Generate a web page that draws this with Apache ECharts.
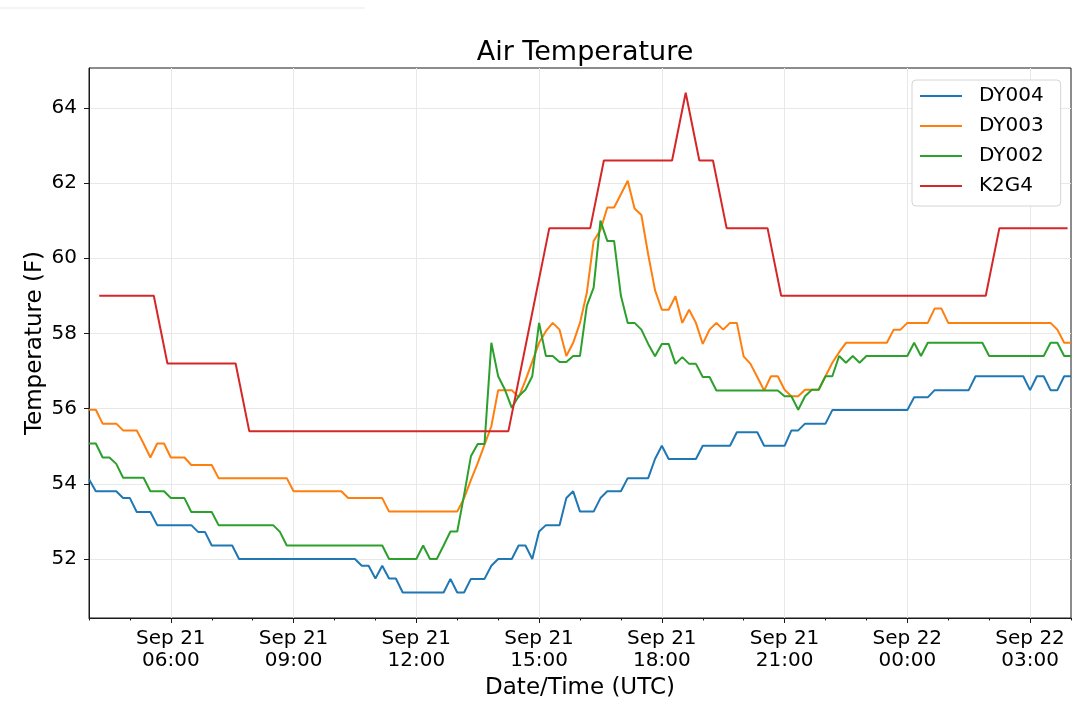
<!DOCTYPE html>
<html>
<head>
<meta charset="utf-8">
<title>Air Temperature</title>
<script src="https://cdn.jsdelivr.net/npm/echarts@6/dist/echarts.min.js"></script>
<style>
  html, body { margin: 0; padding: 0; background: #fff; }
  #chart { width: 1080px; height: 708px; }
</style>
</head>
<body>
<div id="chart"></div>
<script>
// Series names, in legend order
const seriesNames = ['DY004', 'DY003', 'DY002', 'K2G4'];
const seriesColors = ['#1f77b4', '#ff7f0e', '#2ca02c', '#d62728'];

// DY stations: one reading every 10 minutes from Sep 21 04:00 UTC
const dyStart = Date.UTC(2019, 8, 21, 4, 0);
const dyStepMin = 10;

const dy004 = [
  54.12, 53.8, 53.8, 53.8, 53.8, 53.62, 53.62, 53.25, 53.25, 53.25,
  52.9, 52.9, 52.9, 52.9, 52.9, 52.9, 52.72, 52.72, 52.36, 52.36,
  52.36, 52.36, 52.0, 52.0, 52.0, 52.0, 52.0, 52.0, 52.0, 52.0,
  52.0, 52.0, 52.0, 52.0, 52.0, 52.0, 52.0, 52.0, 52.0, 52.0,
  51.82, 51.82, 51.48, 51.82, 51.48, 51.48, 51.11, 51.11, 51.11, 51.11,
  51.11, 51.11, 51.11, 51.47, 51.11, 51.11, 51.47, 51.47, 51.47, 51.82,
  52.0, 52.0, 52.0, 52.36, 52.36, 52.0, 52.73, 52.9, 52.9, 52.9,
  53.62, 53.8, 53.26, 53.26, 53.26, 53.62, 53.8, 53.8, 53.8, 54.15,
  54.15, 54.15, 54.15, 54.66, 55.01, 54.66, 54.66, 54.66, 54.66, 54.66,
  55.01, 55.01, 55.01, 55.01, 55.01, 55.37, 55.37, 55.37, 55.37, 55.01,
  55.01, 55.01, 55.01, 55.42, 55.42, 55.6, 55.6, 55.6, 55.6, 55.96,
  55.96, 55.96, 55.96, 55.96, 55.96, 55.96, 55.96, 55.96, 55.96, 55.96,
  55.96, 56.3, 56.3, 56.3, 56.49, 56.49, 56.49, 56.49, 56.49, 56.49,
  56.86, 56.86, 56.86, 56.86, 56.86, 56.86, 56.86, 56.86, 56.49, 56.86,
  56.86, 56.49, 56.49, 56.86, 56.86
];

const dy003 = [
  55.97, 55.97, 55.6, 55.6, 55.6, 55.42, 55.42, 55.42, 55.07, 54.7,
  55.07, 55.07, 54.7, 54.7, 54.7, 54.5, 54.5, 54.5, 54.5, 54.15,
  54.15, 54.15, 54.15, 54.15, 54.15, 54.15, 54.15, 54.15, 54.15, 54.15,
  53.8, 53.8, 53.8, 53.8, 53.8, 53.8, 53.8, 53.8, 53.62, 53.62,
  53.62, 53.62, 53.62, 53.62, 53.26, 53.26, 53.26, 53.26, 53.26, 53.26,
  53.26, 53.26, 53.26, 53.26, 53.26, 53.62, 54.1, 54.55, 55.04, 55.53,
  56.49, 56.49, 56.49, 56.3, 56.75, 57.25, 57.75, 58.06, 58.28, 58.1,
  57.4, 57.75, 58.28, 59.08, 60.46, 60.75, 61.35, 61.35, 61.7, 62.06,
  61.32, 61.15, 60.1, 59.15, 58.63, 58.63, 58.99, 58.28, 58.63, 58.28,
  57.72, 58.1, 58.28, 58.1, 58.28, 58.28, 57.39, 57.19, 56.84, 56.48,
  56.86, 56.86, 56.5, 56.33, 56.33, 56.5, 56.5, 56.5, 56.86, 57.22,
  57.5, 57.75, 57.75, 57.75, 57.75, 57.75, 57.75, 57.75, 58.1, 58.1,
  58.28, 58.28, 58.28, 58.28, 58.66, 58.66, 58.28, 58.28, 58.28, 58.28,
  58.28, 58.28, 58.28, 58.28, 58.28, 58.28, 58.28, 58.28, 58.28, 58.28,
  58.28, 58.28, 58.1, 57.75, 57.75
];

const dy002 = [
  55.07, 55.07, 54.7, 54.7, 54.53, 54.16, 54.16, 54.16, 54.16, 53.8,
  53.8, 53.8, 53.62, 53.62, 53.62, 53.25, 53.25, 53.25, 53.25, 52.9,
  52.9, 52.9, 52.9, 52.9, 52.9, 52.9, 52.9, 52.9, 52.72, 52.36,
  52.36, 52.36, 52.36, 52.36, 52.36, 52.36, 52.36, 52.36, 52.36, 52.36,
  52.36, 52.36, 52.36, 52.36, 52.0, 52.0, 52.0, 52.0, 52.0, 52.36,
  52.0, 52.0, 52.36, 52.73, 52.73, 53.7, 54.73, 55.06, 55.06, 57.75,
  56.86, 56.5, 56.02, 56.33, 56.5, 56.86, 58.28, 57.4, 57.4, 57.24,
  57.24, 57.4, 57.4, 58.73, 59.22, 61.0, 60.46, 60.46, 59.0, 58.28,
  58.28, 58.1, 57.72, 57.39, 57.72, 57.72, 57.19, 57.37, 57.19, 57.19,
  56.84, 56.84, 56.48, 56.48, 56.48, 56.48, 56.48, 56.48, 56.48, 56.48,
  56.48, 56.48, 56.33, 56.33, 55.97, 56.33, 56.5, 56.5, 56.86, 56.86,
  57.4, 57.22, 57.4, 57.22, 57.4, 57.4, 57.4, 57.4, 57.4, 57.4,
  57.4, 57.75, 57.4, 57.75, 57.75, 57.75, 57.75, 57.75, 57.75, 57.75,
  57.75, 57.75, 57.4, 57.4, 57.4, 57.4, 57.4, 57.4, 57.4, 57.4,
  57.4, 57.75, 57.75, 57.4, 57.4
];

// K2G4: one report every 20 minutes from Sep 21 04:15 UTC
const k2g4Start = Date.UTC(2019, 8, 21, 4, 15);
const k2g4StepMin = 20;
const k2g4 = [
  59.0, 59.0, 59.0, 59.0, 59.0,
  57.2, 57.2, 57.2, 57.2, 57.2, 57.2,
  55.4, 55.4, 55.4, 55.4, 55.4, 55.4, 55.4, 55.4, 55.4, 55.4,
  55.4, 55.4, 55.4, 55.4, 55.4, 55.4, 55.4, 55.4, 55.4, 55.4,
  57.2, 59.0,
  60.8, 60.8, 60.8, 60.8,
  62.6, 62.6, 62.6, 62.6, 62.6, 62.6,
  64.4,
  62.6, 62.6,
  60.8, 60.8, 60.8, 60.8,
  59.0, 59.0, 59.0, 59.0, 59.0, 59.0, 59.0, 59.0,
  59.0, 59.0, 59.0, 59.0, 59.0, 59.0, 59.0, 59.0,
  60.8, 60.8, 60.8, 60.8, 60.8, 60.8
];

// Axis ticks
const yTicks = [52, 54, 56, 58, 60, 62, 64];
const xStart = Date.UTC(2019, 8, 21, 4, 0);
const xEnd = Date.UTC(2019, 8, 22, 4, 0);
const xMajorTicks = [
  Date.UTC(2019, 8, 21, 6), Date.UTC(2019, 8, 21, 9), Date.UTC(2019, 8, 21, 12),
  Date.UTC(2019, 8, 21, 15), Date.UTC(2019, 8, 21, 18), Date.UTC(2019, 8, 21, 21),
  Date.UTC(2019, 8, 22, 0), Date.UTC(2019, 8, 22, 3)
];
const xMinorTicks = [];
for (let t = xStart; t <= xEnd; t += 3600 * 1000) xMinorTicks.push(t);

const MONTHS = ['Jan', 'Feb', 'Mar', 'Apr', 'May', 'Jun', 'Jul', 'Aug', 'Sep', 'Oct', 'Nov', 'Dec'];
function pad2(n) { return (n < 10 ? '0' : '') + n; }
function fmtTime(v) {
  const d = new Date(v);
  return MONTHS[d.getUTCMonth()] + ' ' + d.getUTCDate() + '\n' +
         pad2(d.getUTCHours()) + ':' + pad2(d.getUTCMinutes());
}

function toPairs(start, stepMin, values) {
  return values.map((v, i) => [start + i * stepMin * 60000, v]);
}

const FONT = '"DejaVu Sans", sans-serif';
const chart = echarts.init(document.getElementById('chart'), null, { renderer: 'canvas' });

const seriesData = [
  toPairs(dyStart, dyStepMin, dy004),
  toPairs(dyStart, dyStepMin, dy003),
  toPairs(dyStart, dyStepMin, dy002),
  toPairs(k2g4Start, k2g4StepMin, k2g4)
];

const option = {
  animation: false,
  backgroundColor: '#fff',
  // faint rule along the top-left edge of the source image
  graphic: [{
    type: 'line',
    shape: { x1: 0, y1: 8, x2: 365, y2: 8 },
    style: { stroke: '#f0f0f0', lineWidth: 1.5 },
    silent: true
  }],
  title: {
    text: 'Air Temperature',
    left: 580,
    top: 34,
    textAlign: 'center',
    textStyle: { fontFamily: FONT, fontSize: 27, fontWeight: 'normal', color: '#000' }
  },
  legend: {
    data: seriesNames,
    orient: 'vertical',
    left: 912,
    top: 80,
    padding: [6, 17, 10, 8],
    itemGap: 10,
    itemWidth: 42,
    itemHeight: 2,
    icon: 'rect',
    backgroundColor: '#fff',
    borderColor: '#d4d4d4',
    borderWidth: 1,
    borderRadius: 4,
    textStyle: { fontFamily: FONT, fontSize: 20, color: '#000', lineHeight: 20, padding: [0, 0, 0, 12] }
  },
  grid: {
    left: 89, right: 9, top: 68, bottom: 90,
    show: true, borderColor: '#1a1a1a', borderWidth: 1, backgroundColor: '#fff'
  },
  xAxis: [
    {
      type: 'value',
      min: xStart,
      max: xEnd,
      name: 'Date/Time (UTC)',
      nameLocation: 'middle',
      nameGap: 59,
      nameTextStyle: { fontFamily: FONT, fontSize: 23, color: '#000' },
      axisLine: { show: true, lineStyle: { color: '#1a1a1a', width: 1 } },
      axisTick: { show: true, customValues: xMajorTicks, length: 5, lineStyle: { color: '#1a1a1a' } },
      axisLabel: {
        customValues: xMajorTicks,
        formatter: fmtTime,
        margin: 10,
        fontFamily: FONT, fontSize: 20, color: '#000', lineHeight: 22
      },
      splitLine: { show: true, lineStyle: { color: '#e8e8e8', width: 1 } }
    },
    {
      type: 'value',
      min: xStart,
      max: xEnd,
      position: 'bottom',
      axisLine: { show: false },
      axisTick: { show: true, customValues: xMinorTicks, length: 2.5, lineStyle: { color: '#1a1a1a' } },
      axisLabel: { show: false },
      splitLine: { show: false }
    }
  ],
  yAxis: {
    type: 'value',
    min: 50.43,
    max: 65.06,
    name: 'Temperature (F)',
    nameLocation: 'middle',
    nameGap: 42,
    nameMoveOverlap: false,
    nameTextStyle: { fontFamily: FONT, fontSize: 23, color: '#000' },
    axisLine: { show: true, lineStyle: { color: '#1a1a1a', width: 1 } },
    axisTick: { show: true, customValues: yTicks, length: 5, lineStyle: { color: '#1a1a1a' } },
    axisLabel: {
      customValues: yTicks,
      formatter: v => String(Math.round(v)),
      margin: 12,
      fontFamily: FONT, fontSize: 20, color: '#000'
    },
    splitLine: { show: true, lineStyle: { color: '#e8e8e8', width: 1 } }
  },
  series: seriesNames.map((name, k) => ({
    name: name,
    type: 'line',
    xAxisIndex: 0,
    data: seriesData[k],
    symbol: 'none',
    showSymbol: false,
    lineStyle: { color: seriesColors[k], width: 2 },
    itemStyle: { color: seriesColors[k] },
    emphasis: { disabled: true }
  }))
};

chart.setOption(option);

window.addEventListener('resize', function() {
  chart.resize();
});
</script>
</body>
</html>
